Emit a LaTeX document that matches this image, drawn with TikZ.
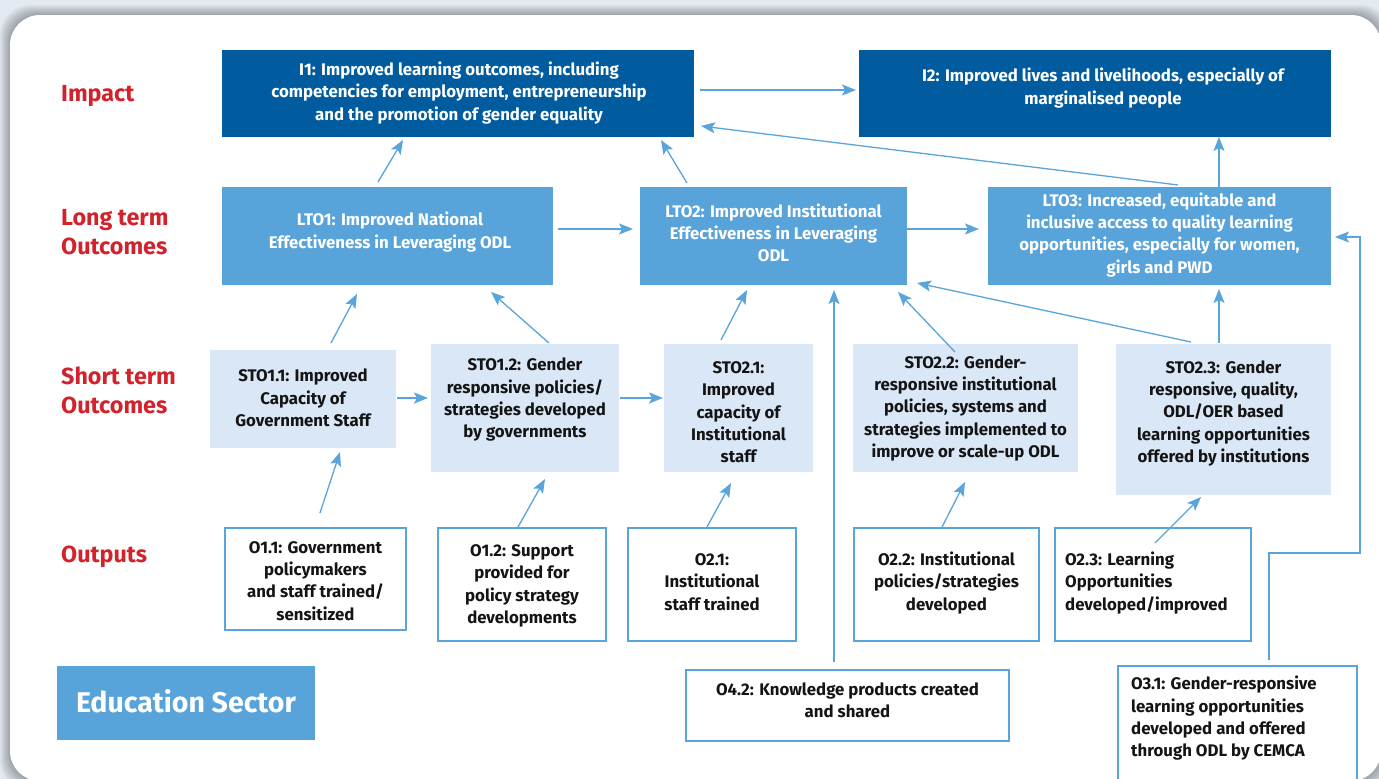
\documentclass[tikz,border=0pt]{standalone}
\usepackage{fontspec}
\setmainfont{Fira Sans}[BoldFont={Fira Sans Bold}]
\usetikzlibrary{arrows.meta,calc}
\definecolor{darkc}{RGB}{0,92,158}
\definecolor{midc}{RGB}{87,163,218}
\definecolor{lightc}{RGB}{218,231,246}
\definecolor{arrc}{RGB}{90,164,220}
\definecolor{redc}{RGB}{210,35,45}
\definecolor{txtc}{RGB}{20,20,20}
\definecolor{bgc}{RGB}{228,234,242}
\tikzset{
  boxbase/.style={anchor=north west, inner sep=0pt, outer sep=0pt},
  ibox/.style={boxbase, fill=darkc},
  lbox/.style={boxbase, fill=midc},
  sbox/.style={boxbase, fill=lightc},
  obox/.style={boxbase, draw=arrc, line width=1.4pt, fill=white},
  wtxt/.style={text=white, align=center, inner sep=0pt, font=\bfseries\fontsize{16.8}{22.3}\selectfont},
  btxt/.style={text=txtc, align=center, inner sep=0pt, font=\bfseries\fontsize{16.8}{22.3}\selectfont},
  rlbl/.style={text=redc, align=left, anchor=west, inner sep=0pt, font=\bfseries\fontsize{23.3}{28.5}\selectfont},
  arr/.style={draw=arrc, line width=1.3pt, -{Stealth[length=14pt,width=11pt,inset=3pt]}},
}
\begin{document}
\begin{tikzpicture}[x=1pt,y=-1pt]
\useasboundingbox (0,0) rectangle (1379,779);
\fill[bgc] (0,0) rectangle (1379,779);
\foreach \i in {1,...,10}
  \fill[black,opacity=0.03,rounded corners=30pt] (10-\i,15-\i) rectangle (1381+\i,781+\i);
\fill[white,rounded corners=30pt] (10,15) rectangle (1381,781);

% row labels
\node[rlbl] (Limp) at (61,96) {Impact};
\node[rlbl] (Llto) at (61,232.3) {Long term\\Outcomes};
\node[rlbl] (Lsto) at (61,390.3) {Short term\\Outcomes};
\node[rlbl] (Lout) at (61,557) {Outputs};

% impact
\node[ibox, minimum width=472pt, minimum height=87pt] (I1) at (222,50) {};
\node[wtxt] (I1t) at (459,92.8) {I1: Improved learning outcomes, including\\competencies for employment, entrepreneurship\\and the promotion of gender equality};
\node[ibox, minimum width=472pt, minimum height=87pt] (I2) at (859,50) {};
\node[wtxt] (I2t) at (1103,88) {I2: Improved lives and livelihoods, especially of\\marginalised people};

% long term outcomes
\node[lbox, minimum width=331pt, minimum height=98pt] (LTO1) at (222,187) {};
\node[wtxt] (LTO1t) at (390,232) {LTO1: Improved National\\Effectiveness in Leveraging ODL};
\node[lbox, minimum width=267pt, minimum height=98pt] (LTO2) at (640,187) {};
\node[wtxt] (LTO2t) at (773.5,232.7) {LTO2: Improved Institutional\\Effectiveness in Leveraging\\ODL};
\node[lbox, minimum width=343pt, minimum height=98pt] (LTO3) at (988,187) {};
\node[wtxt] (LTO3t) at (1159.5,234.7) {LTO3: Increased, equitable and\\inclusive access to quality learning\\opportunities, especially for women,\\girls and PWD};

% short term outcomes
\node[sbox, minimum width=186pt, minimum height=98pt] (STO11) at (210,350) {};
\node[btxt] (STO11t) at (303,398) {STO1.1: Improved\\Capacity of\\Government Staff};
\node[sbox, minimum width=188pt, minimum height=128pt] (STO12) at (431,344) {};
\node[btxt] (STO12t) at (525,399.7) {STO1.2: Gender\\responsive policies/\\strategies developed\\by governments};
\node[sbox, minimum width=149pt, minimum height=128pt] (STO21) at (664,344) {};
\node[btxt] (STO21t) at (738.5,412.4) {STO2.1:\\Improved\\capacity of\\Institutional\\staff};
\node[sbox, minimum width=225pt, minimum height=128pt] (STO22) at (853,344) {};
\node[btxt] (STO22t) at (965.5,408.4) {STO2.2: Gender-\\responsive institutional\\policies, systems and\\strategies implemented to\\improve or scale-up ODL};
\node[sbox, minimum width=215pt, minimum height=151pt] (STO23) at (1116,344) {};
\node[btxt] (STO23t) at (1223.5,413.4) {STO2.3: Gender\\responsive, quality,\\ODL/OER based\\learning opportunities\\offered by institutions};

% outputs
\node[obox, minimum width=181pt, minimum height=102pt] (O11) at (225,528) {};
\node[btxt] (O11t) at (315.5,581) {O1.1: Government\\policymakers\\and staff trained/\\sensitized};
\node[obox, minimum width=168pt, minimum height=113pt] (O12) at (438,528) {};
\node[btxt] (O12t) at (522,586) {O1.2: Support\\provided for\\policy strategy\\developments};
\node[obox, minimum width=168pt, minimum height=113pt] (O21) at (628,528) {};
\node[btxt] (O21t) at (712,582) {O2.1:\\Institutional\\staff trained};
\node[obox, minimum width=185pt, minimum height=113pt] (O22) at (854,528) {};
\node[btxt] (O22t) at (946.5,583) {O2.2: Institutional\\policies/strategies\\developed};
\node[obox, minimum width=196pt, minimum height=113pt] (O23) at (1055,528) {};
\node[btxt, align=left, anchor=west] (O23t) at (1065,583) {O2.3: Learning\\Opportunities\\developed/improved};
\node[obox, line width=2.5pt, minimum width=323pt, minimum height=71pt] (O42) at (686,670) {};
\node[btxt] (O42t) at (847.5,700) {O4.2: Knowledge products created\\and shared};
\node[obox, minimum width=239pt, minimum height=135pt] (O31) at (1118,666) {};
\node[btxt, align=left, anchor=west] (O31t) at (1131,718.4) {O3.1: Gender-responsive\\learning opportunities\\developed and offered\\through ODL by CEMCA};

% education sector
\node[lbox, minimum width=258pt, minimum height=74pt] (ES) at (57,666) {};
\node[text=white, inner sep=0pt, font=\bfseries\fontsize{28.5}{32}\selectfont] (ESt) at (186,701) {Education Sector};

% connectors
\draw[arr] ($(I1.north east)+(6,40)$) -- ($(I2.north west)+(-3,40)$);
\draw[arr] ($(LTO1.north west)+(156,-5)$) -- ($(I1.south west)+(181,3)$);
\draw[arr] ($(LTO2.north west)+(47,-4)$) -- ($(I1.south west)+(439,3)$);
\draw[arr] ($(LTO3.north west)+(190,-2)$) -- ($(I1.north east)+(7,76)$);
\draw[arr] ($(LTO3.north west)+(231,0)$) -- ($(I2.south west)+(360,0)$);
\draw[arr] ($(LTO1.north east)+(5,42)$) -- ($(LTO2.north west)+(-7,42)$);
\draw[arr] ($(LTO2.north east)+(0,42)$) -- ($(LTO3.north west)+(-9,42)$);
\draw[arr] ($(STO11.north west)+(121,-7)$) -- ($(LTO1.south west)+(135,9)$);
\draw[arr] ($(STO12.north west)+(118,-1)$) -- ($(LTO1.south west)+(269,7)$);
\draw[arr] ($(STO21.north west)+(57,-4)$) -- ($(LTO2.south west)+(107,5)$);
\draw[arr] ($(O42.north west)+(148,-8)$) -- ($(LTO2.south west)+(194,5)$);
\draw[arr] ($(STO22.north west)+(102,8)$) -- ($(LTO2.south west)+(258,7)$);
\draw[arr] ($(STO23.north west)+(75,-2)$) -- ($(LTO2.south east)+(10,-2)$);
\draw[arr] ($(STO23.north west)+(103,-1)$) -- ($(LTO3.south west)+(231,4)$);
\draw[arr] ($(STO11.north east)+(1,48)$) -- ($(STO12.north west)+(-3,54)$);
\draw[arr] ($(STO12.north east)+(1,54)$) -- ($(STO21.north west)+(-1,54)$);
\draw[arr] ($(O11.north west)+(95,-15)$) -- ($(STO11.south west)+(130,4)$);
\draw[arr] ($(O12.north west)+(80,-1)$) -- ($(STO12.south west)+(114,7)$);
\draw[arr] ($(O21.north west)+(79,-1)$) -- ($(STO21.south west)+(67,11)$);
\draw[arr] ($(O22.north west)+(88,-1)$) -- ($(STO22.south west)+(112,10)$);
\draw[arr] ($(O23.north west)+(100,15)$) -- ($(STO23.south west)+(85,2)$);
\coordinate (k1) at (1269,553);
\coordinate (k2) at (1360,553);
\coordinate (k3) at (1360,237);
\draw[arr] ($(O31.north west)+(151,-6)$) -- (k1) -- (k2) -- (k3) -- ($(LTO3.north east)+(4,50)$);
\end{tikzpicture}
\end{document}
